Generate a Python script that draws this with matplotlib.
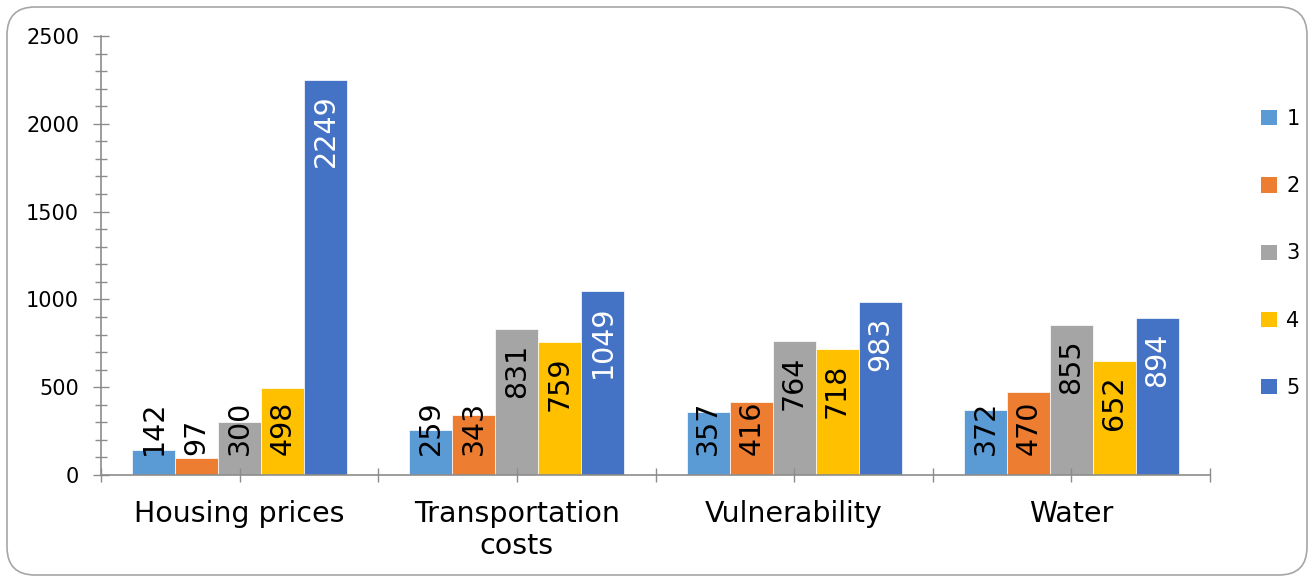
import numpy as np
import matplotlib.pyplot as plt
from matplotlib.patches import FancyBboxPatch, Patch

# data
categories = ["Housing prices", "Transportation\ncosts", "Vulnerability", "Water"]
series_names = ["1", "2", "3", "4", "5"]
s1 = [142, 259, 357, 372]
s2 = [97, 343, 416, 470]
s3 = [300, 831, 764, 855]
s4 = [498, 759, 718, 652]
s5 = [2249, 1049, 983, 894]
colors = ["#5B9BD5", "#ED7D31", "#A5A5A5", "#FFC000", "#4472C4"]
label_colors = ["black", "black", "black", "black", "white"]

all_series = [s1, s2, s3, s4, s5]
axis_gray = "#8C8C8C"

fig = plt.figure(figsize=(13.15, 5.81), dpi=100)
ax = fig.add_axes([101 / 1315, (581 - 475) / 581, (1210 - 101) / 1315, (475 - 36) / 581])

x = np.arange(len(categories))
width = 0.155
offsets = (np.arange(5) - 2) * width

for i, vals in enumerate(all_series):
    ax.bar(x + offsets[i], vals, width, color=colors[i], edgecolor="white", linewidth=0.5)

ax.set_xlim(-0.5, 3.5)
ax.set_ylim(0, 2500)

# y axis
ax.set_yticks(np.arange(0, 2501, 500))
ax.set_yticks(np.arange(0, 2501, 100), minor=True)
ax.tick_params(axis="y", which="major", direction="inout", length=11.5, width=1,
               color=axis_gray, labelsize=15, pad=10)
ax.tick_params(axis="y", which="minor", direction="inout", length=8.5, width=1, color=axis_gray)

# x axis: ticks at every half category, labels at centers
xt = np.arange(-0.5, 3.51, 0.5)
ax.set_xticks(xt)
ax.set_xticklabels(["" if abs(t - round(t)) > 0.1 else categories[int(round(t))] for t in xt])
ax.tick_params(axis="x", which="major", direction="inout", length=10, width=1,
               color=axis_gray, labelsize=20.5, pad=13)
for lbl in ax.get_xticklabels():
    lbl.set_linespacing(1.2)

for side in ["top", "right"]:
    ax.spines[side].set_visible(False)
for side in ["left", "bottom"]:
    ax.spines[side].set_color(axis_gray)
    ax.spines[side].set_linewidth(1.2)

# value labels: inside end, pushed up from the axis when they do not fit
texts = []
for i, vals in enumerate(all_series):
    for j, v in enumerate(vals):
        t = ax.annotate(str(v), xy=(x[j] + offsets[i], v), xytext=(0, -10.5),
                        textcoords="offset points", rotation=90, ha="center", va="top",
                        fontsize=20.5, color=label_colors[i])
        texts.append((t, x[j] + offsets[i]))

fig.canvas.draw()
renderer = fig.canvas.get_renderer()
zero_px = ax.transData.transform((0, 0))[1]
for t, xpos in texts:
    bb = t.get_window_extent(renderer)
    if bb.y0 < zero_px + 20:
        t.xy = (xpos, 0)
        t.set_position((0, 14.4))
        t.set_va("bottom")

# legend
handles = [Patch(facecolor=c, edgecolor="none") for c in colors]
fig.legend(handles, series_names, loc="center left", bbox_to_anchor=(1251 / 1315, 0.5637),
           frameon=False, fontsize=15, handlelength=0.75, handleheight=0.75,
           handletextpad=0.45, labelspacing=2.27, borderpad=0)

# rounded chart border
border = FancyBboxPatch((0.07, 0.06), 13.0, 5.68, boxstyle="round,pad=0,rounding_size=0.28",
                        transform=fig.dpi_scale_trans, facecolor="none",
                        edgecolor="#A6A6A6", linewidth=1.2)
fig.patches.append(border)

plt.savefig("out.png", dpi=100)
